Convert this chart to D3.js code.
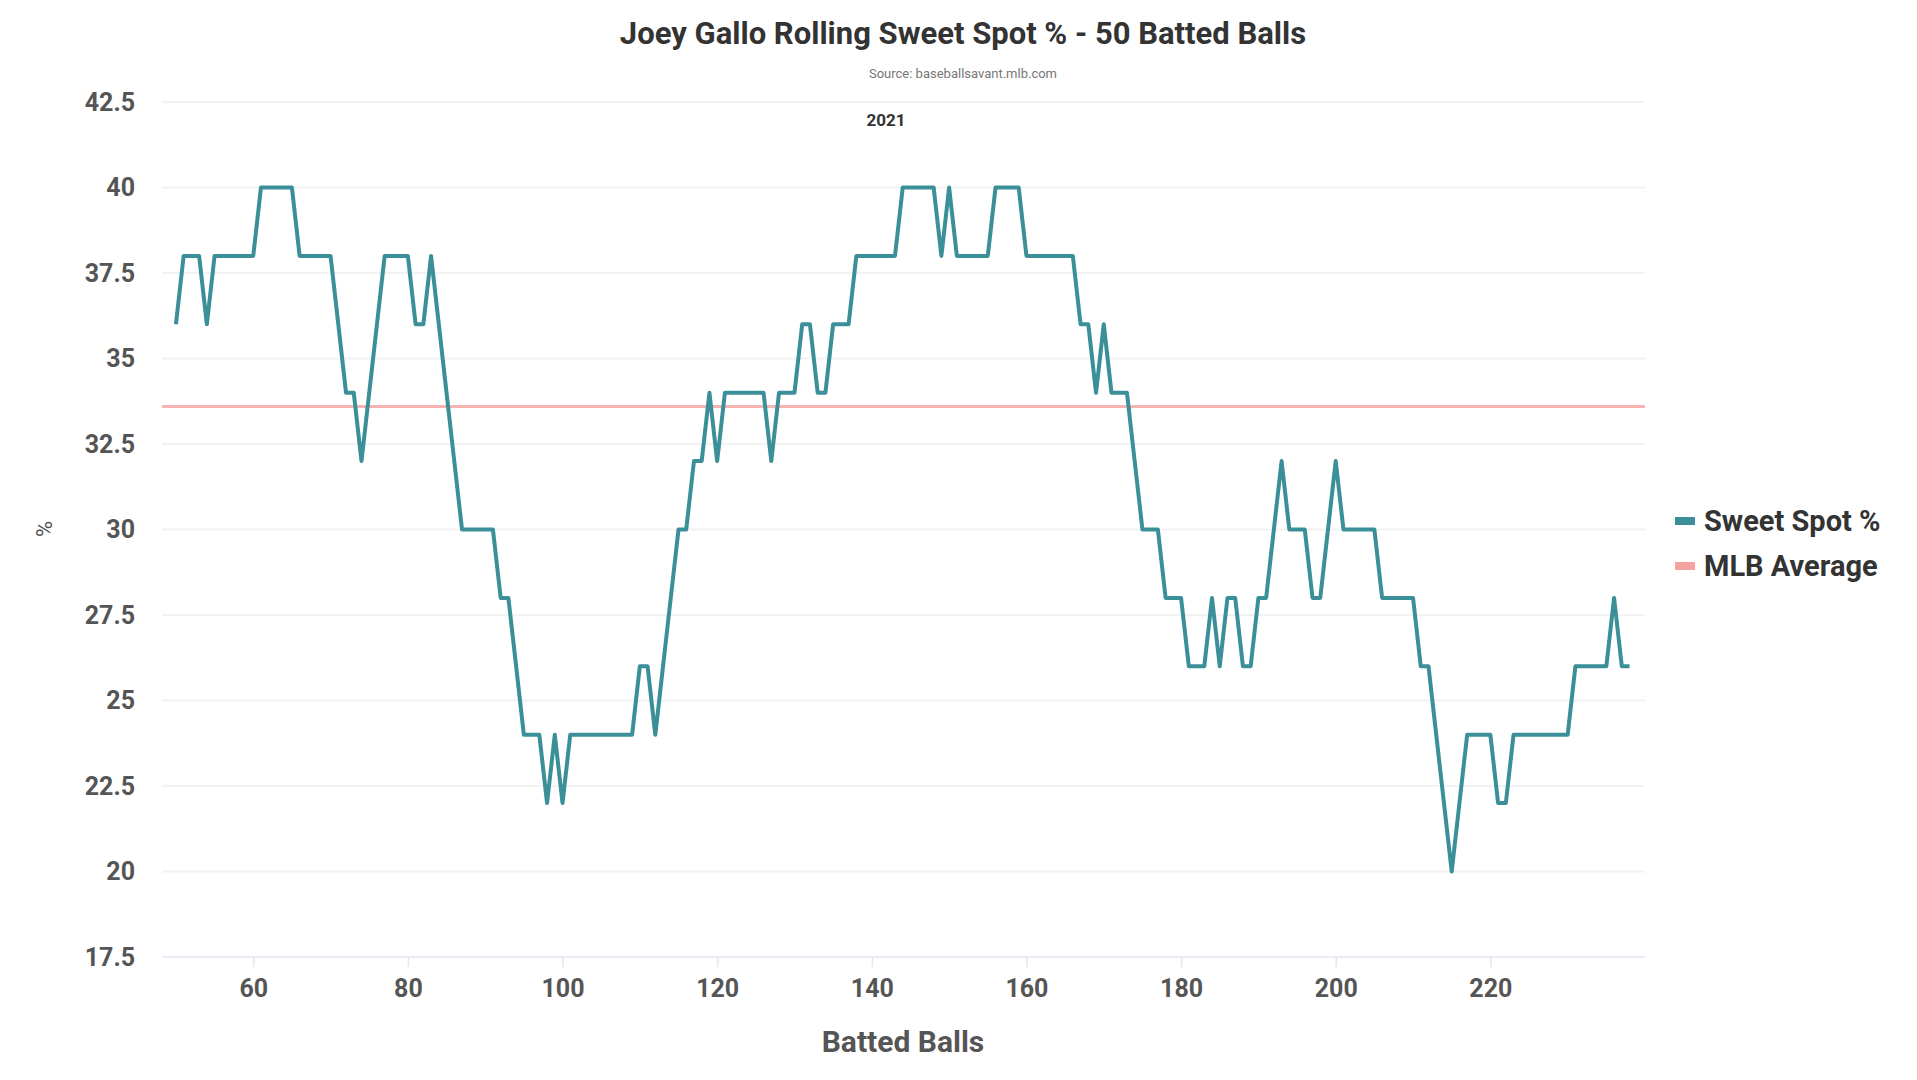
<!DOCTYPE html>
<html>
<head>
<meta charset="utf-8">
<script src="https://cdn.jsdelivr.net/npm/d3@7"></script>
<style>
  body { margin: 0; background: #fff; }
  text { font-family: "Liberation Sans Narrow", "Roboto", sans-serif; }
</style>
</head>
<body>
<svg id="chart"></svg>
<script>
const startBall = 50;
const sweetSpot = [
  36, 38, 38, 38, 36, 38, 38, 38, 38, 38, // 50-59
  38, 40, 40, 40, 40, 40, 38, 38, 38, 38, // 60-69
  38, 36, 34, 34, 32, 34, 36, 38, 38, 38, // 70-79
  38, 36, 36, 38, 36, 34, 32, 30, 30, 30, // 80-89
  30, 30, 28, 28, 26, 24, 24, 24, 22, 24, // 90-99
  22, 24, 24, 24, 24, 24, 24, 24, 24, 24, // 100-109
  26, 26, 24, 26, 28, 30, 30, 32, 32, 34, // 110-119
  32, 34, 34, 34, 34, 34, 34, 32, 34, 34, // 120-129
  34, 36, 36, 34, 34, 36, 36, 36, 38, 38, // 130-139
  38, 38, 38, 38, 40, 40, 40, 40, 40, 38, // 140-149
  40, 38, 38, 38, 38, 38, 40, 40, 40, 40, // 150-159
  38, 38, 38, 38, 38, 38, 38, 36, 36, 34, // 160-169
  36, 34, 34, 34, 32, 30, 30, 30, 28, 28, // 170-179
  28, 26, 26, 26, 28, 26, 28, 28, 26, 26, // 180-189
  28, 28, 30, 32, 30, 30, 30, 28, 28, 30, // 190-199
  32, 30, 30, 30, 30, 30, 28, 28, 28, 28, // 200-209
  28, 26, 26, 24, 22, 20, 22, 24, 24, 24, // 210-219
  24, 22, 22, 24, 24, 24, 24, 24, 24, 24, // 220-229
  24, 26, 26, 26, 26, 26, 28, 26, 26      // 230-238
];
const mlbAverage = 33.6;
const yTicks = [17.5, 20, 22.5, 25, 27.5, 30, 32.5, 35, 37.5, 40, 42.5];
const xTicks = [60, 80, 100, 120, 140, 160, 180, 200, 220];
const legendLabels = ["Sweet Spot %", "MLB Average"];
const legendColors = ["#3b8f98", "#f7a1a1"];

const W = 1917, H = 1080;
const m = { left: 162, right: 272, top: 102, bottom: 123 };
const svg = d3.select("#chart").attr("width", W).attr("height", H);

const x = d3.scaleLinear().domain([48.2, 240]).range([m.left, W - m.right]);
const y = d3.scaleLinear().domain([17.5, 42.5]).range([H - m.bottom, m.top]);

// grid
svg.append("g").selectAll("line").data(yTicks).enter().append("line")
  .attr("x1", m.left).attr("x2", W - m.right)
  .attr("y1", d => y(d)).attr("y2", d => y(d))
  .attr("stroke", d => d === 17.5 ? "#e8ecf4" : "#f2f2f2").attr("stroke-width", 2);

const yAxis = svg.append("g").attr("transform", `translate(${m.left - 24},0)`)
  .call(d3.axisLeft(y).tickValues(yTicks).tickSize(0).tickFormat(d => d));
yAxis.select(".domain").remove();
yAxis.selectAll("text").attr("font-size", 25).attr("fill", "#555").attr("font-weight", "bold");

const xAxis = svg.append("g").attr("transform", `translate(0,${H - m.bottom})`)
  .call(d3.axisBottom(x).tickValues(xTicks).tickSize(10).tickPadding(12));
xAxis.select(".domain").remove();
xAxis.selectAll("line").attr("stroke", "#e0e6f2").attr("stroke-width", 1.5);
xAxis.selectAll("text").attr("font-size", 25).attr("fill", "#555").attr("font-weight", "bold");

// MLB average
svg.append("line")
  .attr("x1", m.left).attr("x2", W - m.right)
  .attr("y1", y(mlbAverage)).attr("y2", y(mlbAverage))
  .attr("stroke", legendColors[1]).attr("stroke-width", 3).attr("opacity", 0.8);

// series
const line = d3.line().x((d, i) => x(startBall + i)).y(d => y(d));
svg.append("path").datum(sweetSpot)
  .attr("d", line).attr("fill", "none")
  .attr("stroke", legendColors[0]).attr("stroke-width", 4).attr("stroke-linejoin", "round");

// titles
svg.append("text").attr("x", 963).attr("y", 44).attr("text-anchor", "middle")
  .attr("font-size", 31).attr("font-weight", "bold").attr("fill", "#333")
  .text("Joey Gallo Rolling Sweet Spot % - 50 Batted Balls");
svg.append("text").attr("x", 963).attr("y", 78).attr("text-anchor", "middle")
  .attr("font-size", 13).attr("fill", "#777").text("Source: baseballsavant.mlb.com");
svg.append("text").attr("x", 886).attr("y", 126).attr("text-anchor", "middle")
  .attr("font-size", 17).attr("font-weight", "bold").attr("fill", "#333").text("2021");
svg.append("text").attr("x", 903).attr("y", 1052).attr("text-anchor", "middle")
  .attr("font-size", 30).attr("font-weight", "bold").attr("fill", "#555").text("Batted Balls");
svg.append("text").attr("transform", "translate(52,529) rotate(-90)").attr("text-anchor", "middle")
  .attr("font-size", 22).attr("fill", "#555").text("%");

// legend
const lg = svg.append("g").selectAll("g").data(legendLabels).enter().append("g")
  .attr("transform", (d, i) => `translate(1675,${521 + i * 45})`);
lg.append("rect").attr("x", 0).attr("y", -4).attr("width", 20).attr("height", 8)
  .attr("fill", (d, i) => legendColors[i]);
lg.append("text").attr("x", 29).attr("y", 10).attr("font-size", 29)
  .attr("font-weight", "bold").attr("fill", "#333").text(d => d);
</script>
</body>
</html>
